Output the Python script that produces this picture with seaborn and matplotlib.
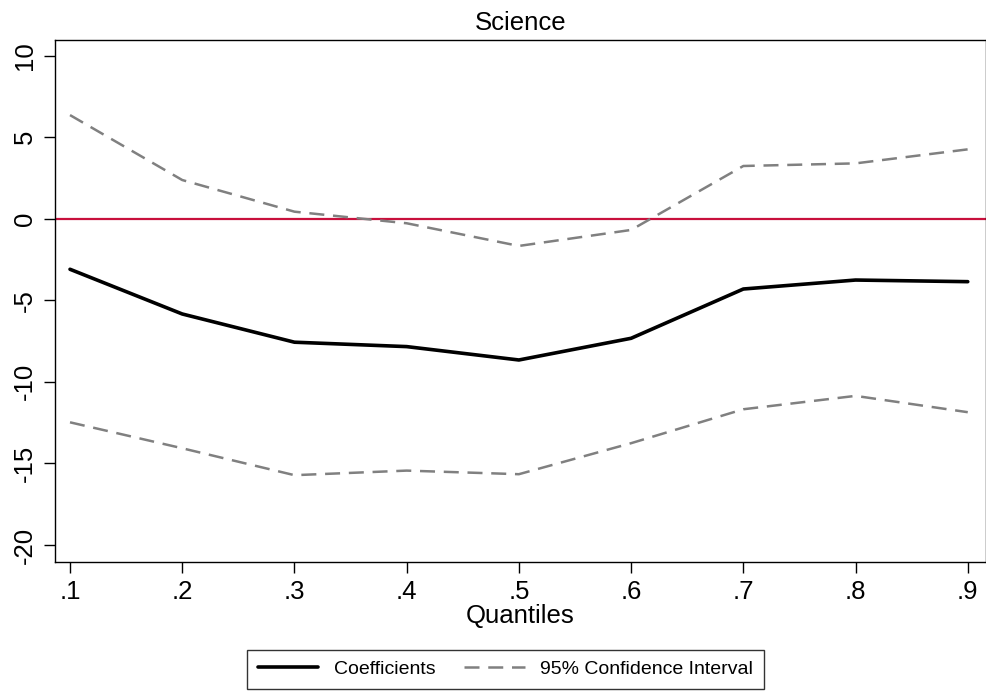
import pandas as pd
import matplotlib
matplotlib.use("Agg")
import matplotlib.pyplot as plt
import seaborn as sns
from matplotlib.lines import Line2D

# Quantile regression results
quantiles = [0.1, 0.2, 0.3, 0.4, 0.5, 0.6, 0.7, 0.8, 0.9]
coef = [-3.1, -5.84, -7.57, -7.84, -8.66, -7.33, -4.31, -3.76, -3.86]
ci_upper = [6.35, 2.37, 0.43, -0.28, -1.67, -0.69, 3.23, 3.39, 4.25]
ci_lower = [-12.48, -14.07, -15.72, -15.44, -15.66, -13.76, -11.68, -10.86, -11.86]
x_labels = [".1", ".2", ".3", ".4", ".5", ".6", ".7", ".8", ".9"]
y_ticks = [10, 5, 0, -5, -10, -15, -20]

df = pd.DataFrame({"q": quantiles, "coef": coef, "upper": ci_upper, "lower": ci_lower})

sns.set_theme(style="white")
plt.rcParams["font.family"] = ["Liberation Sans", "DejaVu Sans"]
plt.rcParams["text.color"] = "black"
plt.rcParams["axes.labelcolor"] = "black"
plt.rcParams["xtick.color"] = "black"
plt.rcParams["ytick.color"] = "black"

fig = plt.figure(figsize=(9.87, 6.95), dpi=100)
ax = fig.add_axes([0.0557, 0.1914, 0.943, 0.751])

gray = "#808080"
ax.axhline(0, color="#C8103C", lw=1.6, zorder=1)
sns.lineplot(data=df, x="q", y="upper", ax=ax, color=gray, lw=1.8)
sns.lineplot(data=df, x="q", y="lower", ax=ax, color=gray, lw=1.8)
sns.lineplot(data=df, x="q", y="coef", ax=ax, color="black", lw=2.6)
for ln in ax.lines[1:3]:
    ln.set_dashes((6, 3.5))

ax.set_xlim(0.0866, 0.916)
ax.set_ylim(-21.04, 10.95)
ax.set_xticks(quantiles)
ax.set_xticklabels(x_labels, fontsize=18.5)
ax.set_yticks(y_ticks)
ax.set_yticklabels([str(v) for v in y_ticks], fontsize=18.5, rotation=90, va="center")
ax.tick_params(axis="both", direction="out", length=8, width=1, color="black",
               labelcolor="black", bottom=True, left=True)
ax.tick_params(axis="x", pad=5)
ax.tick_params(axis="y", pad=5)
ax.set_xlabel("Quantiles", fontsize=18.5, labelpad=0, color="black")
ax.set_ylabel("")
ax.set_title("Science", fontsize=18.5, pad=7, color="black")
for sp in ax.spines.values():
    sp.set_color("black")
    sp.set_linewidth(1.0)

handles = [
    Line2D([0], [0], color="black", lw=2.6),
    Line2D([0], [0], color=gray, lw=1.8, dashes=(6, 3.5)),
]
leg = fig.legend(handles, ["Coefficients", "95% Confidence Interval"],
                 loc="center", bbox_to_anchor=(0.512, 0.037), ncol=2,
                 fontsize=14, frameon=True, fancybox=False, handlelength=3.1,
                 columnspacing=1.5, borderpad=0.55, handletextpad=0.8,
                 labelcolor="black")
leg.get_frame().set_edgecolor("black")
leg.get_frame().set_linewidth(1.0)

fig.savefig("out.png", dpi=100)
